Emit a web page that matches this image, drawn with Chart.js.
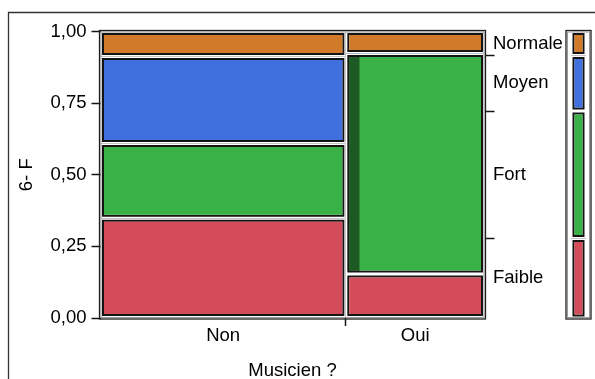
<!DOCTYPE html>
<html>
<head>
<meta charset="utf-8">
<script src="https://cdn.jsdelivr.net/npm/chart.js@4/dist/chart.umd.min.js"></script>
<style>
html,body{margin:0;padding:0;background:#fff;}
#wrap{position:relative;width:595px;height:379px;overflow:hidden;}
#main{position:absolute;left:0;top:0;width:595px;height:379px;}
#leg{position:absolute;left:555px;top:0;width:40px;height:379px;}
</style>
</head>
<body>
<div id="wrap">
<canvas id="main" width="595" height="379"></canvas>
<canvas id="leg" width="40" height="379"></canvas>
</div>
<script>
// ---- data ----
const categories = ['Non', 'Oui'];
const levels = ['Faible', 'Fort', 'Moyen', 'Normale'];
const countsNon = [8, 6, 7, 2];
const countsOui = [2, 10, 0, 1];
const selectedNon = [0, 0, 0, 0];
const selectedOui = [0, 1, 0, 0];
const yTickValues = [0, 0.25, 0.5, 0.75, 1];
const yTickLabels = ['0,00', '0,25', '0,50', '0,75', '1,00'];
const xTitle = 'Musicien ?';
const yTitle = '6- F';

// ---- styles ----
const levelColors = ['#D44B5A', '#3AB146', '#4070DD', '#D17B28'];
const selectedColor = '#1D5A23';
const borderDark = '#141414';
const FONT = "'Liberation Sans', Arial, sans-serif";
const FS = 18.5;
const BW = 3.5;   // black cell border (inner part stays visible)
const GW = 1.5;   // white gap drawn over the outer part of the border

Chart.defaults.font.family = FONT;
Chart.defaults.font.size = FS;
Chart.defaults.color = '#000';
Chart.defaults.plugins.legend.display = false;
Chart.defaults.plugins.tooltip.enabled = false;
Chart.defaults.animation = false;

// ---- derived ----
const columns = [countsNon, countsOui];
const selected = [selectedNon, selectedOui];
const sum = a => a.reduce((s, v) => s + v, 0);
const colTotals = columns.map(sum);
const grand = sum(colTotals);
const colEdges = [0];
colTotals.forEach(t => colEdges.push(colEdges[colEdges.length - 1] + t / grand));
const colCenters = categories.map((c, i) => (colEdges[i] + colEdges[i + 1]) / 2);
const cum = columns.map(col => {
  const t = sum(col); const r = [0];
  col.forEach(v => r.push(r[r.length - 1] + v / t));
  return r;
});
const overall = levels.map((l, j) => sum(columns.map(c => c[j])));
const overallCum = [0];
overall.forEach(v => overallCum.push(overallCum[overallCum.length - 1] + v / grand));

// index positions so that 'flex' bars span exactly between the given edges
function flexPoints(edges) {
  let p = (edges[0] + edges[1]) / 2;
  const pts = [2 * edges[0] - p, p];
  for (let k = 1; k < edges.length; k++) { p = 2 * edges[k] - p; pts.push(p); }
  return pts;
}
const pts = flexPoints(colEdges);
function cellData(fn) {
  return pts.map((x, i) => ({ x, y: (i >= 1 && i <= categories.length) ? fn(i - 1) : null }));
}
const barBase = { stack: 'mosaic', barPercentage: 1, categoryPercentage: 1, barThickness: 'flex', borderSkipped: false, inflateAmount: 0 };

const datasets = [];
levels.forEach((lvl, j) => {
  datasets.push(Object.assign({}, barBase, {
    label: lvl, order: 3,
    data: cellData(c => [cum[c][j], cum[c][j + 1]]),
    backgroundColor: levelColors[j], borderColor: borderDark, borderWidth: BW
  }));
  datasets.push(Object.assign({}, barBase, {
    label: lvl + ' gap', order: 1,
    data: cellData(c => [cum[c][j], cum[c][j + 1]]),
    backgroundColor: 'rgba(0,0,0,0)', borderColor: '#ffffff', borderWidth: GW
  }));
});
// highlighted (selected) part of cells
categories.forEach((cat, c) => {
  levels.forEach((lvl, j) => {
    const s = selected[c][j];
    if (!s) return;
    const x0 = colEdges[c];
    const x1 = x0 + (s / columns[c][j]) * (colEdges[c + 1] - colEdges[c]);
    const sp = flexPoints([x0, x1]);
    datasets.push(Object.assign({}, barBase, {
      label: cat + ' ' + lvl + ' sélection', order: 2,
      data: sp.map((x, i) => ({ x, y: i === 1 ? [cum[c][j], cum[c][j + 1]] : null })),
      backgroundColor: selectedColor, borderColor: borderDark,
      borderWidth: { left: BW, top: BW, bottom: BW, right: 0 }
    }));
  });
});

// x ticks: category labels at column centres, marks at column boundaries
const xTickItems = [];
colCenters.forEach((v, i) => xTickItems.push({ value: v, label: categories[i], mark: false }));
colEdges.slice(1, -1).forEach(v => xTickItems.push({ value: v, label: '', mark: true }));
xTickItems.sort((a, b) => a.value - b.value);

// right axis: level labels at middle of overall segments, marks at boundaries
const rTickItems = [];
levels.forEach((l, j) => rTickItems.push({ value: (overallCum[j] + overallCum[j + 1]) / 2, label: l, mark: false }));
overallCum.slice(1, -1).forEach(v => rTickItems.push({ value: v, label: '', mark: true }));
rTickItems.sort((a, b) => a.value - b.value);

const clear = 'rgba(0,0,0,0)';

const framePlugin = {
  id: 'frame',
  afterDatasetsDraw(chart) {
    const { ctx, chartArea: a } = chart;
    ctx.save();
    ctx.lineWidth = 1.3; ctx.strokeStyle = '#1e1e1e';
    ctx.strokeRect(a.left - 1, a.top - 1, a.right - a.left + 2, a.bottom - a.top + 2);
    ctx.lineWidth = 1; ctx.strokeStyle = '#9a9a9a';
    ctx.strokeRect(a.left + 0.5, a.top + 0.5, a.right - a.left - 1, a.bottom - a.top - 1);
    ctx.restore();
  }
};
const pagePlugin = {
  id: 'page',
  beforeDraw(chart) {
    const ctx = chart.ctx;
    ctx.save();
    ctx.lineWidth = 1.3; ctx.strokeStyle = '#333';
    ctx.beginPath();
    ctx.moveTo(8.5, 379); ctx.lineTo(8.5, 12.5); ctx.lineTo(595, 12.5);
    ctx.stroke();
    ctx.restore();
  }
};

new Chart(document.getElementById('main'), {
  type: 'bar',
  data: { datasets },
  options: {
    responsive: false,
    layout: { padding: { top: 31.5, left: 0, right: 0, bottom: 0 } },
    scales: {
      x: {
        type: 'linear', min: 0, max: 1, position: 'bottom', offset: false,
        afterBuildTicks: s => { s.ticks = xTickItems.map(t => ({ value: t.value })); },
        ticks: { autoSkip: false, maxRotation: 0, padding: 1, font: { size: FS, lineHeight: 1 },
          callback: (v, i) => xTickItems[i] ? xTickItems[i].label : '' },
        grid: { offset: false, drawOnChartArea: false, tickLength: 8, tickWidth: 1.5,
          tickColor: ctx => (xTickItems[ctx.index] && xTickItems[ctx.index].mark) ? borderDark : clear },
        border: { display: false },
        title: { display: true, text: xTitle, font: { size: FS, lineHeight: 1 }, padding: { top: 0, bottom: -1 } },
        afterFit: s => { s.height = 61; }
      },
      y: {
        type: 'linear', min: 0, max: 1, position: 'left', stacked: false,
        afterBuildTicks: s => { s.ticks = yTickValues.map(v => ({ value: v })); },
        ticks: { autoSkip: false, padding: 5, callback: (v, i) => yTickLabels[i] },
        grid: { drawOnChartArea: false, tickLength: 9, tickWidth: 1.5, tickColor: borderDark },
        border: { display: false },
        title: { display: true, text: yTitle, font: { size: FS }, padding: { top: 16, bottom: 0 } },
        afterFit: s => { s.width = 100.5; }
      },
      y2: {
        type: 'linear', min: 0, max: 1, position: 'right',
        afterBuildTicks: s => { s.ticks = rTickItems.map(t => ({ value: t.value })); },
        ticks: { autoSkip: false, padding: -1.5, callback: (v, i) => rTickItems[i] ? rTickItems[i].label : '' },
        grid: { drawOnChartArea: false, tickLength: 10, tickWidth: 1.5,
          tickColor: ctx => (rTickItems[ctx.index] && rTickItems[ctx.index].mark) ? borderDark : clear },
        border: { display: false },
        afterFit: s => { s.width = 110.5; }
      }
    }
  },
  plugins: [pagePlugin, framePlugin]
});

// ---- legend bar: overall distribution ----
const legBase = { grouped: false, barPercentage: 0.652, categoryPercentage: 1, borderSkipped: false, inflateAmount: 0 };
const legSets = [];
levels.forEach((lvl, j) => {
  legSets.push(Object.assign({}, legBase, {
    label: lvl, order: 2, data: [[overallCum[j], overallCum[j + 1]]],
    backgroundColor: levelColors[j], borderColor: borderDark, borderWidth: BW
  }));
  legSets.push(Object.assign({}, legBase, {
    label: lvl + ' gap', order: 1, data: [[overallCum[j], overallCum[j + 1]]],
    backgroundColor: clear, borderColor: '#ffffff', borderWidth: GW
  }));
});
new Chart(document.getElementById('leg'), {
  type: 'bar',
  data: { labels: ['Total'], datasets: legSets },
  options: {
    responsive: false,
    layout: { padding: { left: 12, right: 5, top: 31.5, bottom: 61 } },
    scales: { x: { display: false }, y: { display: false, min: 0, max: 1 } }
  },
  plugins: [framePlugin]
});
</script>
</body>
</html>
